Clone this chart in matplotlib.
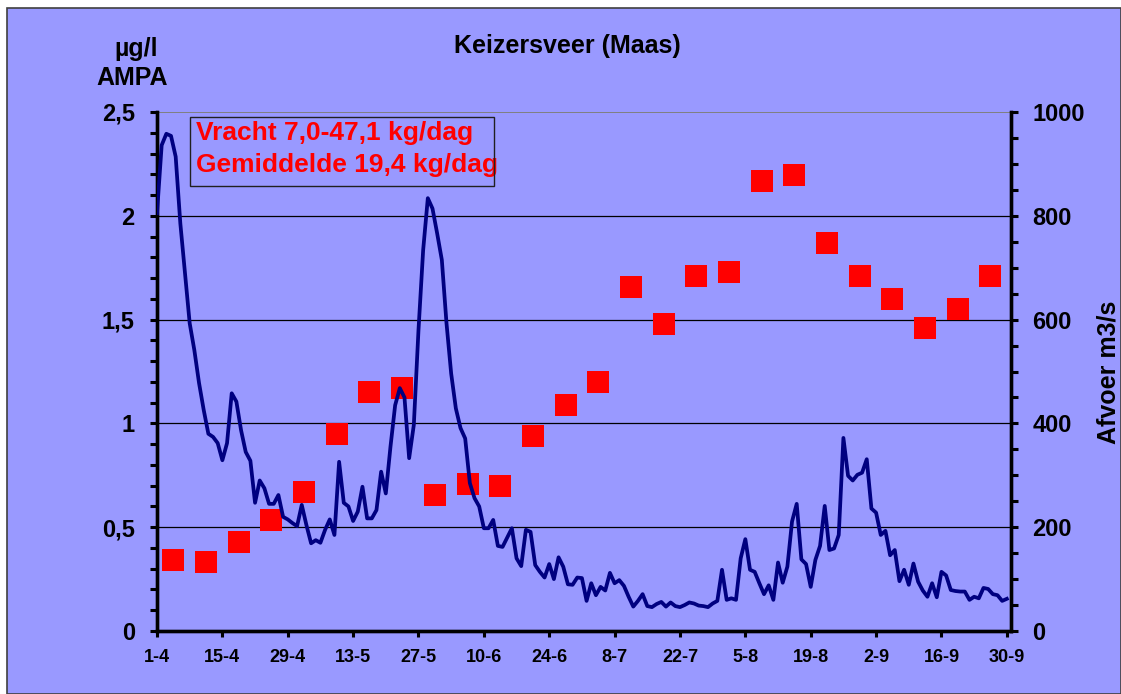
import matplotlib
matplotlib.use("Agg")
import matplotlib.pyplot as plt
from matplotlib.patches import Rectangle
from matplotlib.ticker import MultipleLocator, FixedLocator

plt.rcParams['font.family'] = ['Liberation Sans', 'DejaVu Sans']
plt.rcParams['font.weight'] = 'bold'

# ---- data ----
tick_days = [0, 14, 28, 42, 56, 70, 84, 98, 112, 126, 140, 154, 168, 182]
tick_labels = ['1-4', '15-4', '29-4', '13-5', '27-5', '10-6', '24-6', '8-7',
               '22-7', '5-8', '19-8', '2-9', '16-9', '30-9']

# AMPA concentration (ug/l), weekly samples (days after 1-4)
ampa_days = [3.5, 10.5, 17.5, 24.5, 31.5, 38.5, 45.5, 52.5, 59.5, 66.5, 73.5,
             80.5, 87.5, 94.5, 101.5, 108.5, 115.5, 122.5, 129.5, 136.5, 143.5,
             150.5, 157.5, 164.5, 171.5, 178.5]
ampa = [0.34, 0.33, 0.43, 0.535, 0.67, 0.948, 1.15, 1.17, 0.657, 0.707, 0.697,
        0.938, 1.09, 1.199, 1.656, 1.477, 1.709, 1.728, 2.167, 2.196, 1.868,
        1.709, 1.598, 1.458, 1.55, 1.709]

# Discharge (m3/s), daily from 1-4 (day 0) to 30-9 (day 182)
afvoer = [805, 936, 958, 954, 914, 785, 690, 593, 541, 478,
          426, 380, 374, 362, 329, 362, 458, 442, 387, 345,
          328, 247, 290, 275, 245, 245, 262, 220, 215, 208,
          202, 243, 204, 169, 175, 170, 195, 215, 185, 326,
          247, 240, 212, 230, 278, 217, 217, 233, 307, 265,
          355, 435, 468, 450, 333, 397, 580, 734, 834, 814,
          766, 715, 593, 496, 429, 391, 371, 285, 256, 240,
          198, 198, 214, 164, 162, 180, 198, 140, 125, 195,
          191, 127, 114, 103, 129, 100, 142, 124, 90, 89,
          103, 102, 58, 92, 69, 85, 78, 112, 92, 98,
          87, 66, 47, 58, 71, 48, 46, 52, 56, 47,
          55, 48, 46, 50, 55, 53, 49, 48, 46, 53,
          58, 118, 60, 63, 60, 140, 177, 118, 114, 92,
          71, 88, 60, 132, 93, 124, 211, 245, 138, 129,
          85, 137, 164, 241, 156, 159, 185, 372, 299, 290,
          301, 305, 331, 236, 228, 185, 193, 146, 156, 96,
          118, 89, 130, 95, 78, 66, 92, 65, 114, 107,
          79, 77, 76, 76, 60, 66, 63, 83, 81, 71,
          69, 58, 62]
afvoer_days = list(range(len(afvoer)))

left_ticks = [0, 0.5, 1, 1.5, 2, 2.5]
left_labels = ['0', '0,5', '1', '1,5', '2', '2,5']
right_ticks = [0, 200, 400, 600, 800, 1000]

title = 'Keizersveer (Maas)'
box_lines = ['Vracht 7,0-47,1 kg/dag', 'Gemiddelde 19,4 kg/dag']

# ---- figure ----
W, H = 1121, 694
fig = plt.figure(figsize=(W / 100, H / 100), dpi=100, facecolor='white')
bg = '#9999FF'
fig.patches.append(Rectangle((7 / W, 0), 1 - 7 / W, 1 - 8 / H, transform=fig.transFigure,
                             facecolor=bg, edgecolor='#404040', linewidth=1.2, zorder=-5))

ax = fig.add_axes([157 / W, 1 - 631 / H, (1011.5 - 157) / W, (631 - 112) / H])
ax.set_facecolor('none')
ax.set_xlim(0, 183)
ax.set_ylim(0, 2.5)

for y in left_ticks[1:-1]:
    ax.axhline(y, color='black', lw=0.9, zorder=1)
ax.axhline(2.5, color='#808080', lw=1.4, zorder=1)

ax.plot(ampa_days, ampa, linestyle='none', marker='s', markersize=16.3,
        color='#FF0000', markeredgewidth=0, zorder=3)

ax.spines['top'].set_visible(False)
for s in ['left', 'bottom', 'right']:
    ax.spines[s].set_linewidth(2.4)
    ax.spines[s].set_color('black')

ax.yaxis.set_major_locator(FixedLocator(left_ticks))
ax.set_yticklabels(left_labels)
ax.yaxis.set_minor_locator(MultipleLocator(0.1))
ax.tick_params(axis='y', which='both', direction='out', length=5, width=2.2,
               labelsize=17, pad=11)
ax.set_xticks(tick_days)
ax.set_xticklabels(tick_labels)
ax.tick_params(axis='x', which='both', direction='out', length=4, width=2.2,
               labelsize=13, pad=9)

ax2 = ax.twinx()
ax2.set_ylim(0, 1000)
ax2.plot(afvoer_days, afvoer, color='#000080', lw=2.7, zorder=4,
         solid_joinstyle='round')
ax2.spines['top'].set_visible(False)
for s in ['left', 'bottom', 'right']:
    ax2.spines[s].set_linewidth(2.4)
ax2.yaxis.set_major_locator(FixedLocator(right_ticks))
ax2.yaxis.set_minor_locator(MultipleLocator(50))
ax2.tick_params(axis='y', which='both', direction='out', length=5, width=2.2,
                labelsize=17, pad=10)
for lab in ax.get_xticklabels() + ax.get_yticklabels() + ax2.get_yticklabels():
    lab.set_fontweight('bold')

# texts
fig.text(567 / W, 1 - 46 / H, title, ha='center', va='center', fontsize=18,
         fontweight='bold')
fig.text(136 / W, 1 - 49 / H, 'µg/l', ha='center', va='center', fontsize=18,
         fontweight='bold')
fig.text(132 / W, 1 - 78 / H, 'AMPA', ha='center', va='center', fontsize=18,
         fontweight='bold')
fig.text(1108 / W, 1 - 372 / H, 'Afvoer m3/s', ha='center', va='center',
         rotation=90, fontsize=18, fontweight='bold')

# text box
fig.patches.append(Rectangle((190 / W, 1 - 186 / H), (494 - 190) / W, (186 - 117) / H,
                             transform=fig.transFigure, facecolor='none',
                             edgecolor='#202020', linewidth=1.0, zorder=5))
fig.text(196 / W, 1 - 133 / H, box_lines[0], ha='left', va='center',
         fontsize=19, fontweight='bold', color='#FF0000')
fig.text(196 / W, 1 - 165 / H, box_lines[1], ha='left', va='center',
         fontsize=19, fontweight='bold', color='#FF0000')

fig.savefig('out.png', dpi=100, facecolor='white')
